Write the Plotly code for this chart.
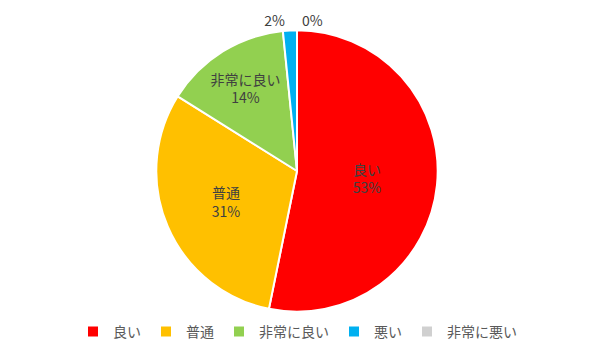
import plotly.graph_objects as go

labels = ["良い", "普通", "非常に良い", "悪い", "非常に悪い"]
values = [53.2, 30.7, 14.5, 1.6, 0.0]
pct_text = ["53%", "31%", "14%", "2%", "0%"]
colors = ["#FF0000", "#FFC000", "#92D050", "#00B0F0", "#D0D0D0"]
positions = ["inside", "inside", "inside", "outside", "outside"]

texts = [f"{l}<br>{p}" if pos == "inside" else p for l, p, pos in zip(labels, pct_text, positions)]

W, H = 595, 348
cx, cy, r = 297, 175, 144

font = dict(family="Noto Sans CJK JP", size=14, color="#404040")

fig = go.Figure(go.Pie(
    labels=labels,
    values=values,
    text=texts,
    textinfo="text",
    textposition=positions,
    insidetextorientation="horizontal",
    sort=False,
    direction="clockwise",
    rotation=0,
    marker=dict(colors=colors, line=dict(color="white", width=2)),
    textfont=font,
    outsidetextfont=font,
    insidetextfont=font,
    domain=dict(x=[(cx - r) / W, (cx + r) / W], y=[1 - (cy + r) / H, 1 - (cy - r) / H]),
    hoverinfo="label+percent",
))

fig.update_layout(
    width=W, height=H,
    margin=dict(l=0, r=0, t=0, b=0),
    paper_bgcolor="white",
    showlegend=True,
    legend=dict(orientation="h", x=0.5, xanchor="center", y=-0.025, yanchor="bottom",
                font=dict(family="Noto Sans CJK JP", size=14, color="#595959"),
                itemwidth=30, traceorder="normal"),
)

fig.write_html("out.html")
